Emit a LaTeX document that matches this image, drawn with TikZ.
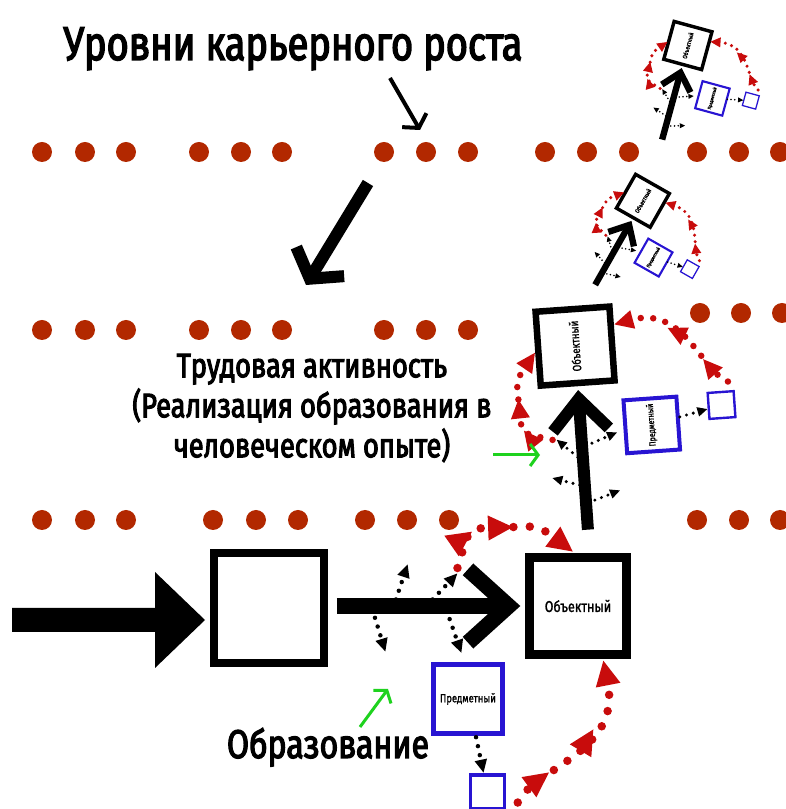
\documentclass[tikz,border=0pt]{standalone}
\usepackage{fontspec}
\usepackage{graphicx}
\setmainfont{Fira Sans}[FakeStretch=0.8, FakeBold=1.2]
\newfontfamily\headfont{Fira Sans}[FakeStretch=0.8, FakeBold=3]
\usetikzlibrary{arrows.meta,decorations.markings}
\definecolor{dotred}{RGB}{178,40,0}
\definecolor{loopred}{RGB}{200,12,12}
\definecolor{boxblue}{RGB}{40,20,210}
\definecolor{hintgreen}{RGB}{30,210,30}
\tikzset{
  heading/.style={inner sep=0pt, align=center, text=black},
  startbox/.style={draw=black, line width=8pt, minimum size=110pt, inner sep=0pt},
  objbox/.style={draw=black, fill=white, minimum size=74pt, inner sep=0pt,
    transform shape, font=\fontsize{12}{12}\selectfont},
  subjbox/.style={draw=boxblue, fill=white, minimum size=53pt, inner sep=0pt,
    transform shape, font=\fontsize{9}{9}\selectfont},
  tinybox/.style={draw=boxblue, fill=white, minimum size=26pt, inner sep=0pt,
    transform shape},
  shaft/.style={draw=black, line width=#1, line cap=butt, line join=miter},
  pointer/.style={draw=black, line width=#1, line cap=butt},
  hint/.style={draw=hintgreen, line width=3pt, -{Straight Barb[length=8pt, width=22pt]}},
  blackdots/.style 2 args={draw=black, line width=#1, line cap=round,
    dash pattern=on 0pt off #2, -{Triangle[length=0pt 3 0, width=0pt 2.6 0]}},
  reddots/.style 2 args={draw=loopred, line width=#1, line cap=round,
    dash pattern=on 0pt off #2, -{Triangle[length=0pt 3 0, width=0pt 2.7 0]}},
  midheads/.style 2 args={postaction={decorate}, decoration={markings,
    mark=at position #1 with {\arrow{Triangle[length=0pt 3 0, width=0pt 2.7 0]}},
    mark=at position #2 with {\arrow{Triangle[length=0pt 3 0, width=0pt 2.7 0]}}}},
  % one career stage, arrow pointing up, tip at the origin; #1 = scale
  pics/stage/.style={code={
    \pgfmathsetlengthmacro\stShaft{#1*12pt}
    \pgfmathsetlengthmacro\stObj{#1*6.5pt}
    \pgfmathsetlengthmacro\stSubj{#1*4pt}
    \pgfmathsetlengthmacro\stTiny{#1*2.4pt}
    \pgfmathsetlengthmacro\stBlack{#1*3.4pt}
    \pgfmathsetlengthmacro\stBlackGap{#1*7pt}
    \pgfmathsetlengthmacro\stRed{#1*6.5pt}
    \pgfmathsetlengthmacro\stRedGap{#1*12.5pt}
    \pgfmathsetlengthmacro\stBend{#1*9pt}
    \node[objbox, line width=\stObj] (-obj) at (0,42) {\rotatebox{90}{Объектный}};
    \node[subjbox, line width=\stSubj] (-subj) at (71,-42) {\rotatebox{90}{Предметный}};
    \node[tinybox, line width=\stTiny] (-tiny) at (142,-27) {};
    \coordinate (-tail) at (0,-142);
    \coordinate (-apex) at (0,-11);
    \coordinate (-redL) at (-29,-50);
    \coordinate (-redR) at (150,-4);
    % main arrow
    \draw[shaft=\stShaft] (-tail) -- (-apex);
    \draw[shaft=\stShaft] (-28,-42) -- (-apex) -- (28,-42);
    % small dotted arrows
    \foreach \ax/\ay/\bx/\by in {10/-56/36/-47, -5/-69/-25/-50, -5/-97/-32/-88, 9/-113/35/-105}
      \draw[blackdots={\stBlack}{\stBlackGap}] (\ax,\ay) -- (\bx,\by);
    \draw[blackdots={\stBlack}{\stBlackGap}] (-subj) -- (-tiny);
    % red feedback
    \draw[reddots={\stRed}{\stRedGap}, midheads={0.27}{0.55}, rounded corners=\stBend]
      (-redL) -- (-59,-41) -- (-61,12) -- (-obj.185);
    \draw[reddots={\stRed}{\stRedGap}, midheads={0.25}{0.6}]
      (-redR) .. controls (124,8) and (112,75) .. (-obj.25);
  }}
}
\begin{document}
\begin{tikzpicture}[x=1pt, y=1pt]
\useasboundingbox (0,0) rectangle (786,809);

% level lines
\foreach \x in {42,85,126,199,241,282,384,426,468,545,587,629,697,739,780}
  \fill[dotred] (\x,657) circle (10pt);
\foreach \x in {42,85,126,199,241,282,384,426,468}
  \fill[dotred] (\x,479) circle (10pt);
\foreach \x in {700,741,782}
  \fill[dotred] (\x,496) circle (10pt);
\foreach \x in {42,85,126,213,256,298,365,407,449,697,739,780}
  \fill[dotred] (\x,289) circle (10pt);

% titles
\node[heading, font=\headfont\fontsize{47.5}{47.5}\selectfont, anchor=base] (levels) at (293,749)
  {Уровни карьерного роста};
\node[heading, font=\headfont\fontsize{34}{40}\selectfont] (work) at (312,401)
  {Трудовая активность\\(Реализация образования в\\человеческом опыте)};
\node[heading, font=\headfont\fontsize{40}{40}\selectfont, anchor=base] (edu) at (328,51)
  {Образование};

% pointers
\coordinate (lvA) at (390,731);
\coordinate (lvB) at (420,679);
\draw[pointer=4pt, -{Straight Barb[length=9pt, width=28pt]}] (lvA) -- (lvB);
\coordinate (dnA) at (368,626);
\coordinate (dnB) at (306,524);
\draw[pointer=12pt, -{Straight Barb[length=20pt, width=56pt]}] (dnA) -- (dnB);

% entry
\node[startbox] (start) at (269,201) {};
\fill (12,201) -- (155,201) -- (155,237) -- (205,189) -- (155,141) -- (155,177)
  -- (12,177) -- cycle;

% stages
\pic[rotate=-90, scale=1.31] (lvl1) at (523,203) {stage=1.31};
\pic[rotate=4] (lvl2) at (578,421) {stage=1};
\pic[rotate=-29.6, scale=0.525] (lvl3) at (632,589) {stage=0.525};
\pic[rotate=-15.3, scale=0.53] (lvl4) at (682,742) {stage=0.53};

% green hints
\coordinate (hA) at (360,82);
\coordinate (hB) at (388,120);
\draw[hint] (hA) -- (hB);
\coordinate (hC) at (493,354);
\coordinate (hD) at (540,354);
\draw[hint] (hC) -- (hD);

\end{tikzpicture}
\end{document}
